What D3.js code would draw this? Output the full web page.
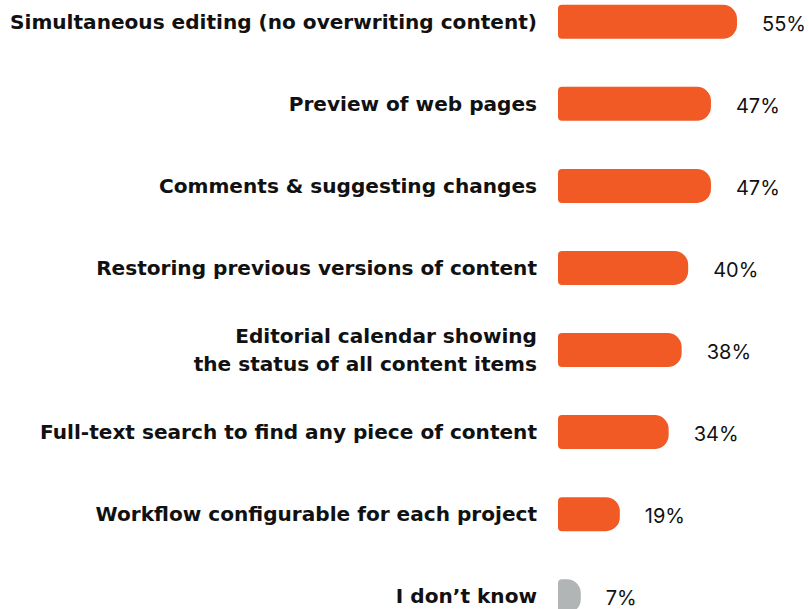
<!DOCTYPE html>
<html>
<head>
<meta charset="utf-8">
<script src="https://cdn.jsdelivr.net/npm/d3@7"></script>
<style>
  html, body { margin: 0; padding: 0; background: #ffffff; }
  svg { display: block; }
</style>
</head>
<body>
<svg id="chart" width="809" height="609"></svg>
<script>
const categories = [
  ["Simultaneous editing (no overwriting content)"],
  ["Preview of web pages"],
  ["Comments & suggesting changes"],
  ["Restoring previous versions of content"],
  ["Editorial calendar showing", "the status of all content items"],
  ["Full-text search to find any piece of content"],
  ["Workflow configurable for each project"],
  ["I don’t know"]
];
const values = [55, 47, 47, 40, 38, 34, 19, 7];
const valueLabels = ["55%", "47%", "47%", "40%", "38%", "34%", "19%", "7%"];
const highlight = [true, true, true, true, true, true, true, false];

const svg = d3.select("#chart");
const x0 = 558;
const labelFont = "'DejaVu Sans', sans-serif";

const x = d3.scaleLinear().domain([0, 55]).range([x0, 737]);
const y = d3.scaleBand()
  .domain(d3.range(values.length))
  .range([-19, 637])
  .paddingInner(0.585)
  .paddingOuter(0.29);

const bh = 34;

function barPath(x1, yc, h) {
  const w = x1 - x0;
  const rl = 4;
  const rr = Math.min(14, w - rl);
  const t = yc - h / 2, b = yc + h / 2;
  return `M${x0 + rl},${t} H${x1 - rr} A${rr},${rr} 0 0 1 ${x1},${t + rr} V${b - rr} A${rr},${rr} 0 0 1 ${x1 - rr},${b} H${x0 + rl} A${rl},${rl} 0 0 1 ${x0},${b - rl} V${t + rl} A${rl},${rl} 0 0 1 ${x0 + rl},${t} Z`;
}

// size category labels so the longest line spans the left column
const probe = svg.append("text")
  .attr("font-family", labelFont)
  .attr("font-size", 20)
  .attr("font-weight", 700)
  .text(categories[0][0]);
const labelSize = 20 * 527 / probe.node().getComputedTextLength();
probe.remove();

const rows = svg.selectAll("g.row")
  .data(values.map((v, i) => ({ v, i })))
  .join("g")
  .attr("class", "row");

rows.append("path")
  .attr("d", d => barPath(x(d.v), y(d.i) + y.bandwidth() / 2, bh))
  .attr("fill", d => highlight[d.i] ? "#f15a24" : "#b1b5b5");

rows.append("text")
  .attr("x", d => x(d.v) + 25)
  .attr("y", d => y(d.i) + y.bandwidth() / 2 + 2)
  .attr("dominant-baseline", "central")
  .attr("font-family", "Inter, 'Noto Sans', sans-serif")
  .attr("font-size", 20)
  .attr("font-weight", 400)
  .attr("fill", "#111")
  .text(d => valueLabels[d.i]);

rows.each(function(d) {
  const lines = categories[d.i];
  const yc = y(d.i) + y.bandwidth() / 2;
  const lh = 28;
  const t = d3.select(this).append("text")
    .attr("text-anchor", "end")
    .attr("font-family", labelFont)
    .attr("font-size", labelSize)
    .attr("font-weight", 700)
    .attr("fill", "#111");
  lines.forEach((ln, k) => {
    t.append("tspan")
      .attr("x", 537)
      .attr("y", yc + (k - (lines.length - 1) / 2) * lh)
      .attr("dominant-baseline", "central")
      .text(ln);
  });
});
</script>
</body>
</html>
